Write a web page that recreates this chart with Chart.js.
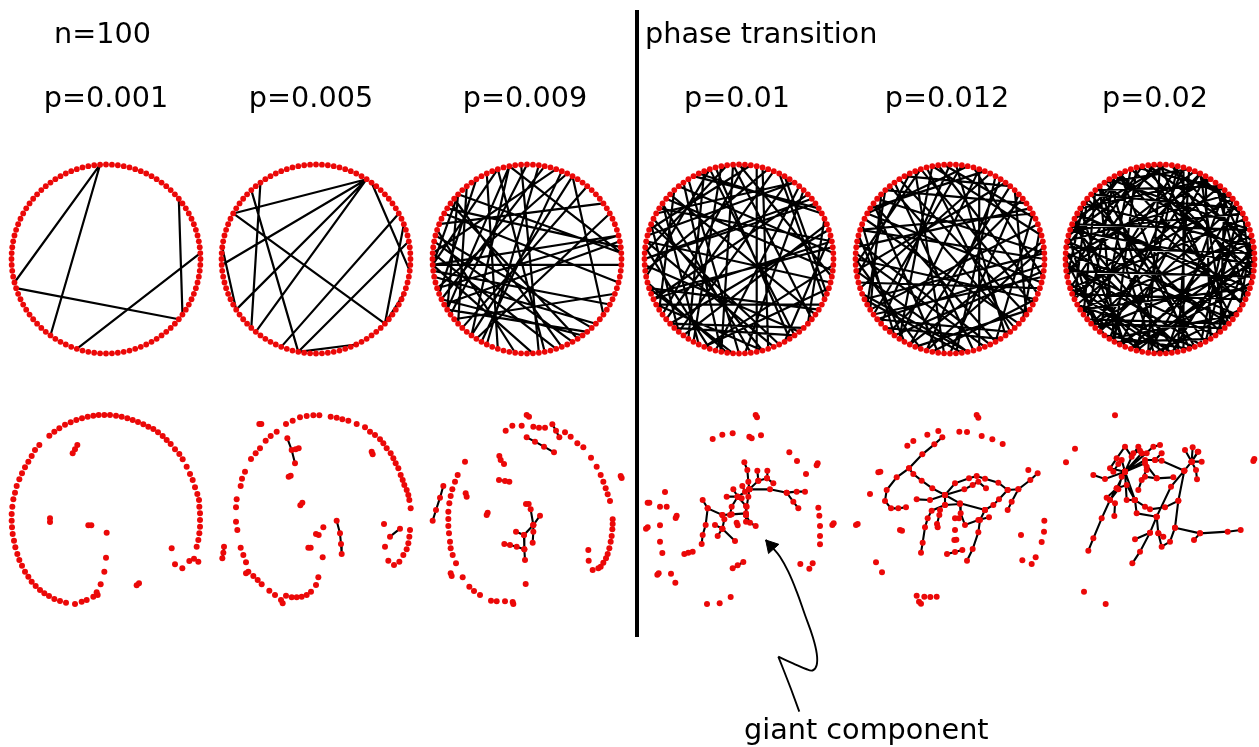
<!DOCTYPE html>
<html><head><meta charset="utf-8">
<script src="https://cdn.jsdelivr.net/npm/chart.js@4"></script>
<style>
html,body{margin:0;padding:0;background:#fff;}
#wrap{position:relative;width:1259px;height:747px;overflow:hidden;background:#fff;}
canvas{position:absolute;left:0;top:0;}
.lbl{position:absolute;font-family:"DejaVu Sans",Verdana,sans-serif;font-size:28.7px;line-height:28px;color:#000;white-space:nowrap;}
.c{transform:translateX(-50%);}
</style></head><body>
<div id="wrap"><canvas id="c" width="1259" height="747"></canvas></div>
<script>
// ---------------- text ----------------
const sizeLabel = 'n=100';
const phaseLabel = 'phase transition';
const arrowLabel = 'giant component';
const panelLabels = ['p=0.001','p=0.005','p=0.009','p=0.01','p=0.012','p=0.02'];

// ---------------- graphs: circular layout (node index pairs, n=100) ----------------
const N = 100;
const top1Edges = [[26,54],[26,65],[11,90],[55,89],[1,70]];
const top2Edges = [[16,42],[16,51],[16,59],[16,64],[37,72],[35,63],[42,88],[48,59],[15,98],[6,88],[8,69],[3,72],[94,88],[72,82]];
const top3Edges = [[51,99],[28,59],[28,65],[30,78],[30,51],[28,1],[18,55],[17,90],[17,65],[38,1],[38,59],[46,87],[51,4],[55,4],[49,80],[51,76],[26,77],[38,51],[20,49],[34,56],[59,86],[32,70],
  [40,84],[44,10],[36,62],[52,92],[47,83],[25,60],[22,57],[42,96],[58,3],[61,94],[63,14],[45,73],[53,88],[66,8],[23,68],[41,2],[57,85],[39,81],[19,67]];
const top4Edges = [[3,41],[5,62],[7,88],[9,33],[12,57],[14,71],[15,46],[18,93],[20,52],[22,78],[24,60],[25,97],[27,49],[29,84],[31,66],[32,8],[34,75],[36,1],[38,90],[40,68],[42,15],[44,82],[45,23],[47,96],[48,70],[50,11],[51,86],[53,30],[55,74],[56,2],[58,92],[59,37],[61,19],[63,85],[64,44],[65,6],[67,28],[69,99],[72,35],[73,54],[76,13],[77,40],[79,58],[80,21],[81,47],[83,4],[87,62],[89,26],[91,55],[94,17],[95,69],[98,39],[10,50],[43,79],[16,64],[26,72],[85,30],[57,3]];
const top5Edges = [[0,45],[2,71],[4,28],[6,59],[8,83],[10,37],[11,64],[13,90],[15,52],[17,76],[19,41],[21,97],[23,60],[24,85],[26,7],[28,66],[30,92],[32,53],[33,14],[35,79],[37,58],[39,1],[40,73],[42,22],[43,88],[46,67],[48,9],[49,81],[51,30],[54,95],[55,18],[57,77],[59,38],[61,99],[62,25],[63,84],[65,44],[68,3],[70,50],[72,93],[74,31],[75,12],[78,56],[80,20],[82,47],[86,61],[87,36],[89,5],[91,69],[94,27],[96,42],[98,65],[1,57],[14,68],[29,86],[34,90],[45,8],[52,78],[60,97],[71,16],[83,40],[93,50],[20,66]];
const top6Edges = [[0,33],[0,71],[1,48],[2,85],[3,27],[3,62],[4,91],[5,44],[6,70],[7,19],[7,55],[8,96],[9,38],[10,64],[11,82],[12,47],[13,29],[13,76],[14,58],[15,99],[16,41],[17,68],[18,87],[19,52],[20,35],[21,79],[22,60],[23,94],[24,46],[25,73],[26,11],[27,89],[28,53],[29,67],[30,98],[31,45],[32,80],[33,61],[34,5],[35,92],[36,74],[37,14],[38,83],[39,57],[40,2],[41,69],[42,95],[43,24],[44,78],[45,8],[46,63],[47,90],[48,31],[49,72],[50,16],[51,85],[52,97],[53,40],[54,77],[55,26],[56,93],[57,18],[58,81],[59,4],[60,37],[61,88],[62,12],[63,99],[64,30],[65,50],[66,21],[67,84],[68,1],[69,43],[70,96],[71,22],[72,58],[73,10],[74,91],[75,34],[76,55],[77,6],[78,20],[79,47],[80,65],[81,36],[82,51],[83,9],[84,17],[86,39],[87,62],[88,25],[89,49],[90,66],[92,32],[93,15],[94,42],[95,59],[97,28],[98,70],[99,45],[1,23],[11,56],[44,88],[36,67],[18,64],[75,2],[86,13]];

// ---------------- graphs: spring layout (layout units) ----------------
const bot1Nodes = [[590,440],[595,420],[598,400],[600,380],[600,360],[600,340],[598,320],[597,300],[592,282],[585,262],[578,240],[570,222],[560,200],[548,178],[538,162],[525,148],[512,132],[500,120],[488,108],[474,97],[460,87],[445,80],[430,73],[414,66],[398,60],[382,55],[365,50],[348,47],[330,45],[313,45],[296,45],[280,47],[263,50],[246,55],[229,60],[212,67],[195,74],[178,85],[163,95],[148,107],[118,135],[105,150],[95,168],[85,185],[75,202],[66,220],[58,238],[50,258],[45,278],[40,298],[37,320],[35,342],[35,362],[36,382],[38,402],[42,422],[46,442],[52,462],[58,480],[66,497],[75,515],[85,530],[95,545],[107,558],[120,570],[133,580],[147,588],[163,597],[180,603],[198,608],[225,612],[245,605],[260,600],
  [280,590],[293,585],[290,577],[302,553],[313,515],[318,473],[320,398],
  [582,476],[595,485],[568,483],[547,505],[525,493],[515,445]];
const bot1Chains = [[[218,160],[225,148],[232,135]],[[150,355],[150,366]],[[265,376],[274,376]],[[410,556],[417,550]]];

const bot2Nodes = [[362,50],[380,53],[397,58],[415,62],[440,72],[465,82],[480,95],[495,105],[510,118],[520,130],[530,145],[542,160],[550,175],[557,190],[565,205],[572,225],[578,240],[583,255],[590,270],[595,285],[598,300],[602,325],
  [228,72],[248,62],[270,52],[290,48],[310,46],[328,46],
  [200,95],[182,108],[167,122],[150,145],[137,160],[123,177],[105,215],[96,236],[92,258],[80,298],[78,322],[78,365],[82,390],[92,443],[100,465],[108,487],[115,515],[108,520],[130,528],[143,540],[155,553],[178,572],[195,585],[213,600],[218,610],
  [228,587],[245,592],[260,592],[275,590],[290,585],[303,575],[318,555],[325,532],
  [600,390],[598,410],[595,430],[590,448],[580,465],[568,485],[552,495],[535,482],[525,440],[522,372],
  [340,382],[338,472]];
const bot2Chains = [[[540,410],[570,386]],[[42,440],[40,458],[37,475]],[[148,72],[154,72]],[[232,115],[245,150],[255,190]],[[257,148],[266,145]],[[236,230],[242,227]],[[271,316],[277,308]],[[380,362],[390,400],[393,432],[395,462]],[[318,402],[326,405]],[[295,443],[302,443]],[[485,155],[488,163]]];

const bot3Nodes = [[135,185],[113,225],[105,245],[97,268],[92,288],[88,310],[85,335],[85,357],[85,378],[87,400],[90,425],[92,445],[98,465],[108,490],[92,520],[95,528],[128,532],[148,560],[162,573],[180,585],[213,602],[230,604],[255,604],[278,606],[280,612],
  [257,92],[277,77],[305,77],[340,80],[357,83],[375,83],[435,97],[452,110],[472,130],[490,142],[513,173],[530,200],[542,225],[550,245],[557,265],[563,283],[570,303],
  [578,358],[578,372],[577,388],[575,408],[572,425],[568,445],[563,462],[558,475],[550,488],[542,500],[535,505],[518,510],[506,482],[505,450],
  [317,552],[238,168],[242,180],[252,192]];
const bot3Chains = [[[320,45],[327,50]],[[602,228],[605,234]],[[397,73],[408,92],[418,112]],[[320,112],[345,125],[372,140],[402,157]],[[70,258],[60,293],[48,330],[38,362]],[[237,240],[255,243],[268,245]],[[137,280],[140,290]],[[203,338],[200,345]],
  [[318,312],[326,312]],[[332,328],[340,375]],[[360,347],[340,375],[312,405],[313,448],[315,480]],[[288,395],[312,405]],[[340,375],[340,395],[338,428]],[[253,432],[270,435],[290,440],[313,448]]];

const bot4Nodes = [[233,117],[262,104],[293,100],[378,106],[463,157],[486,183],[513,222],[90,276],[75,320],[95,320],[75,376],[75,425],[82,459],[108,521],[121,548],[216,612],[254,610],[287,591],[496,492],[523,506],[533,490],[550,323],[553,347],[555,378],[555,408],[555,433],[305,368],[308,376]];
const bot4Chains = [[[362,45],[366,52]],[[343,110],[350,115]],[[548,190],[545,196]],[[38,308],[43,308]],[[125,347],[122,354]],[[33,386],[38,382]],[[67,524],[71,520]],[[592,375],[596,370]],[[148,462],[160,458],[173,455]],[[293,505],[308,496],[325,486]],
  [[328,187],[337,210],[340,245],[343,268],[340,290],[335,320],[333,345]],
  [[343,268],[405,268],[455,278],[475,305],[490,325]],
  [[455,278],[485,275],[510,275]],
  [[343,268],[370,242],[367,212]],
  [[370,242],[396,235],[397,212]],
  [[396,235],[415,250]],
  [[295,268],[308,290],[343,268]],
  [[275,290],[308,290]],
  [[322,258],[330,275],[343,268]],
  [[308,290],[290,320],[285,345]],
  [[308,290],[333,318]],
  [[203,300],[218,325],[212,375],[203,405],[200,432]],
  [[218,325],[262,345],[290,343],[333,340]],
  [[240,375],[262,386],[248,408]],
  [[262,386],[300,423]],
  [[262,386],[268,358],[262,345]],
  [[333,345],[345,368],[362,378]],
  [[333,345],[333,365]],
  [[320,295],[308,290]]];

const bot5Nodes = [[247,104],[280,93],[343,95],[366,96],[410,108],[442,118],[473,132],[187,137],[205,123],[75,282],[93,487],[111,517],[550,210],[598,362],[597,395],[590,426],[528,405],[532,481],[560,492],[572,472],[215,587],[238,590],[256,591],[275,590],[330,390]];
const bot5Chains = [[[395,45],[400,53]],[[100,217],[106,215]],[[33,375],[38,372]],[[222,605],[228,611]],[[306,462],[330,456],[352,450]],[[165,390],[171,392]],[[328,420],[334,419]],
  [[292,112],[268,133],[232,163],[192,205],[155,232],[125,270],[120,303],[138,325],[160,325],[183,322]],
  [[192,205],[205,222],[230,242],[262,265],[300,285]],
  [[300,285],[330,250],[372,235],[395,228],[420,236],[460,248],[488,270],[520,268],[556,240],[578,220]],
  [[520,268],[500,305],[488,330]],
  [[488,270],[462,298],[445,315],[420,330]],
  [[300,285],[345,310],[420,330]],
  [[300,285],[255,300],[215,298]],
  [[300,285],[300,315],[260,332],[248,355],[240,382],[233,428],[228,458]],
  [[300,315],[345,312],[347,340],[360,375],[400,360],[432,352]],
  [[420,330],[405,360],[400,397],[383,447],[366,482]],
  [[300,285],[358,268],[383,255],[400,245],[423,265]],
  [[285,330],[283,345],[276,372],[278,382]],
  [[330,355],[342,355]]];

const bot6Nodes = [[180,46],[60,146],[33,187],[87,575],[152,612]];
const bot6Chains = [[[598,177],[595,183]],
  [[100,452],[115,415],[140,355],[165,300],[185,265],[210,215]],
  [[210,215],[150,237],[115,225]],
  [[210,215],[165,205],[185,175],[210,140],[230,170],[250,140]],
  [[210,215],[270,180],[300,180],[320,160]],
  [[210,215],[295,140],[315,135]],
  [[210,215],[260,160],[275,160]],
  [[210,215],[240,300],[270,320],[285,328],[330,322],[370,302],[388,212],[410,185],[428,155]],
  [[388,212],[348,260],[305,350],[285,398],[255,455],[232,490]],
  [[305,350],[310,400],[320,440],[345,425],[360,383],[370,302]],
  [[360,383],[435,400],[518,395],[557,390]],
  [[435,400],[417,420]],
  [[388,212],[320,182],[300,180]],
  [[240,300],[245,340],[305,350]],
  [[285,398],[240,418]],
  [[270,230],[305,235],[355,232]],
  [[180,310],[178,348]],
  [[155,293],[185,265],[215,255],[240,300]],
  [[410,185],[390,150]],[[410,185],[413,142]],[[410,185],[430,155]],[[410,185],[440,185]],[[410,185],[423,210],[426,238]],
  [[250,270],[260,240],[275,210],[275,200]],
  [[310,400],[325,410]],
  [[210,215],[200,180],[190,192],[175,215]],
  [[210,215],[235,160],[255,152]],
  [[200,230],[190,268],[165,300]],
  [[210,215],[270,190],[305,235]],
  [[210,215],[215,300],[238,300]]];

// arrow path (figure units)
const arrowCurve = [[765.7,540],[771.7,546.7],[780,556.7],[788.3,571.7],[796.7,591.7],[805,615],[812.7,636.7],[816.7,653.3],[816.7,665],[812.5,670.5],[806,669],[793,663.3],[778.3,656.7]];
const arrowTail = [[778.3,656.7],[784,671],[791,689],[799.3,711.7]];
const dividerLine = [[637,10],[637,637]];

// ---------------- layout / style ----------------
const W = 1259, H = 747;
const RED = 'rgb(235,8,8)';
const topCX = [106,316,527,739,950,1160], topCY = 259, topR = 94.5;
const botOX = [0,210,420,635,845,1055], botOY = 400, botK = 1/3;
const labelCX = [106,311,525,737,947,1155];

const wrap = document.getElementById('wrap');
function addLabel(text, left, top, center){
  const d = document.createElement('div');
  d.className = 'lbl' + (center ? ' c' : '');
  d.style.left = left + 'px'; d.style.top = top + 'px';
  d.textContent = text; wrap.appendChild(d);
}
addLabel(sizeLabel, 54, 19, false);
addLabel(phaseLabel, 645, 19, false);
addLabel(arrowLabel, 744, 715, false);
panelLabels.forEach((t,i)=>addLabel(t, labelCX[i], 83, true));

const datasets = [];
function nodesDS(pts, r){ return {data:pts, showLine:false, pointRadius:r, pointHoverRadius:r, pointBackgroundColor:RED, pointBorderColor:RED, pointBorderWidth:0, borderColor:RED, order:0}; }
function edgesDS(pts, w, order){ return {data:pts, showLine:true, spanGaps:false, borderColor:'#000', borderWidth:w, pointRadius:0, pointHoverRadius:0, tension:0, order:order===undefined?1:order}; }

const topEdges = [top1Edges,top2Edges,top3Edges,top4Edges,top5Edges,top6Edges];
topEdges.forEach((edges, p)=>{
  const cx = topCX[p];
  const pos = k => { const a = 2*Math.PI*k/N; return {x: cx + topR*Math.cos(a), y: topCY - topR*Math.sin(a)}; };
  const nodes = []; for (let k=0;k<N;k++) nodes.push(pos(k));
  const seg = [];
  edges.forEach(([i,j])=>{ seg.push(pos(i), pos(j), {x:null, y:null}); });
  datasets.push(edgesDS(seg, 2.2));
  datasets.push(nodesDS(nodes, 2.9));
});

const botNodes = [bot1Nodes,bot2Nodes,bot3Nodes,bot4Nodes,bot5Nodes,bot6Nodes];
const botChains = [bot1Chains,bot2Chains,bot3Chains,bot4Chains,bot5Chains,bot6Chains];
botNodes.forEach((iso, p)=>{
  const ox = botOX[p];
  const f = q => ({x: ox + q[0]*botK, y: botOY + q[1]*botK});
  const pts = iso.map(f);
  const seg = [];
  botChains[p].forEach(ch=>{ ch.forEach(q=>{ seg.push(f(q)); pts.push(f(q)); }); seg.push({x:null,y:null}); });
  datasets.push(edgesDS(seg, 2.1));
  datasets.push(nodesDS(pts, 3.0));
});

const toXY = q => ({x:q[0], y:q[1]});
datasets.push(edgesDS(dividerLine.map(toXY), 4));
const ac = edgesDS(arrowCurve.map(toXY), 1.9); ac.tension = 0.4; datasets.push(ac);
datasets.push(edgesDS(arrowTail.map(toXY), 1.9));
// arrow head at the tip of the curve, pointing along its first segment
const t0 = arrowCurve[0], t1 = arrowCurve[1];
const dx = t0[0]-t1[0], dy = t0[1]-t1[1], L = Math.hypot(dx,dy);
const headR = 8;
datasets.push({data:[{x:t0[0]-dx/L*headR, y:t0[1]-dy/L*headR}], showLine:false, pointStyle:'triangle', pointRadius:headR, pointRotation: Math.atan2(dx,-dy)*180/Math.PI, pointBackgroundColor:'#000', pointBorderColor:'#000', pointBorderWidth:1, order:0});

new Chart(document.getElementById('c'), {
  type:'scatter',
  data:{datasets},
  options:{
    responsive:false, animation:false, events:[], devicePixelRatio:1,
    layout:{padding:0, autoPadding:false},
    plugins:{legend:{display:false}, tooltip:{enabled:false}},
    scales:{
      x:{type:'linear', min:0, max:W, display:false},
      y:{type:'linear', min:0, max:H, reverse:true, display:false}
    }
  }
});
</script>
</body></html>
